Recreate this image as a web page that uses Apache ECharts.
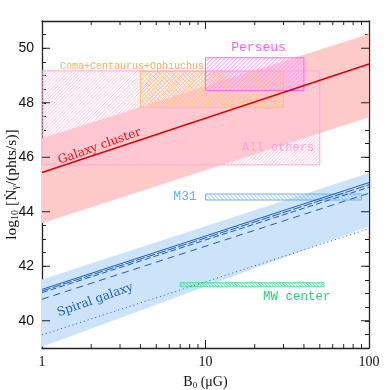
<!DOCTYPE html>
<html>
<head>
<meta charset="utf-8">
<script src="https://cdn.jsdelivr.net/npm/echarts@6/dist/echarts.min.js"></script>
<style>
    html, body {margin: 0; background: #fff;}
    #chart {width: 390px; height: 390px;}
</style>
</head>
<body>
<div id="chart"></div>
<script type="text/javascript">
    // B0 range (muG) where the bands and model lines are drawn
    var bEnds = [1, 100];

    // galaxy clusters
    var clusterLine = [45.44, 49.42];
    var clusterLow = [43.58, 47.47];
    var clusterHigh = [46.70, 50.52];

    // spiral galaxies
    var spiralLow = [39.05, 43.47];
    var spiralHigh = [41.51, 45.42];
    var spiralSolid = [41.15, 45.07];
    var spiralDashA = [41.09, 44.99];
    var spiralDashB = [41.03, 44.90];
    var spiralDashC = [40.79, 44.68];
    var spiralDot = [39.48, 43.38];

    // observed regions: [Bmin, Bmax], [Nmin, Nmax]
    var regionNames = ['All others', 'Coma+Centaurus+Ophiuchus', 'Perseus', 'M31', 'MW center'];
    var regionB = [[1, 50], [4, 30], [10, 40], [10, 90], [7, 53]];
    var regionN = [[45.72, 49.17], [47.83, 49.15], [48.45, 49.65], [44.43, 44.65], [41.25, 41.40]];

    // text labels
    var labelText = ['Coma+Centaurus+Ophiuchus', 'Perseus', 'All others', 'M31', 'MW center', 'Galaxy cluster', 'Spiral galaxy'];
    var labelB = [1.29, 21.1, 27.8, 7.5, 36.2, 2.25, 2.12];
    var labelN = [49.32, 50.02, 46.33, 44.57, 40.88, 46.40, 40.76];

    // ticks
    var xMinorTicks = [2, 3, 4, 5, 6, 7, 8, 9, 20, 30, 40, 50, 60, 70, 80, 90];
    var yMajorTicks = [40, 42, 44, 46, 48, 50];

    var X_MIN = 1, X_MAX = 100, Y_MIN = 39, Y_MAX = 51;

    // dir: 1 = '/', 2 = '\', 3 = both
    var regionStyle = [
        {color: '#ffa8d8', hatch: '#ffc4e4', dir: 1, step: 3.4},
        {color: '#ffc080', hatch: '#ffc68c', dir: 3, step: 4.5},
        {color: '#ff66f0', hatch: '#ff92f6', dir: 1, step: 4},
        {color: '#74b4f4', hatch: '#86bef6', dir: 2, step: 4},
        {color: '#5ee0a0', hatch: '#3fd98f', dir: 2, step: 3}
    ];
    var labelStyle = [
        {color: '#ffaa55', font: '10px "Liberation Mono"', align: 'left', rot: 0},
        {color: '#ff5cf2', font: '13px "Liberation Mono"', align: 'center', rot: 0},
        {color: '#ffa0d8', font: '12px "Liberation Mono"', align: 'center', rot: 0},
        {color: '#6cb0f4', font: '13px "Liberation Mono"', align: 'center', rot: 0},
        {color: '#22d077', font: '12.5px "Liberation Mono"', align: 'center', rot: 0},
        {color: '#dd1111', font: '12px "DejaVu Serif"', align: 'center', rot: 19.5},
        {color: '#1f5fae', font: '12px "DejaVu Serif"', align: 'center', rot: 19.5}
    ];

    // hatch lines clipped to the rectangle [x0,x1] x [y0,y1] (pixels)
    function hatchLines(x0, y0, x1, y1, dir, step, color) {
        var out = [];
        var st = {stroke: color, lineWidth: 1};
        var c, xa, xb;
        if (dir & 1) {
            for (c = x0 + y0 + step; c < x1 + y1; c += step) {
                xa = Math.max(x0, c - y1);
                xb = Math.min(x1, c - y0);
                if (xb > xa) out.push({type: 'line', shape: {x1: xa, y1: c - xa, x2: xb, y2: c - xb}, style: st});
            }
        }
        if (dir & 2) {
            for (c = y0 - x1 + step; c < y1 - x0; c += step) {
                xa = Math.max(x0, y0 - c);
                xb = Math.min(x1, y1 - c);
                if (xb > xa) out.push({type: 'line', shape: {x1: xa, y1: xa + c, x2: xb, y2: xb + c}, style: st});
            }
        }
        return out;
    }

    function bandSeries(low, high, color, z) {
        return {
            type: 'custom',
            z: z,
            silent: true,
            data: [[bEnds[0], low[0]]],
            renderItem: function (params, api) {
                var pts = [
                    api.coord([bEnds[0], low[0]]),
                    api.coord([bEnds[1], low[1]]),
                    api.coord([bEnds[1], high[1]]),
                    api.coord([bEnds[0], high[0]])
                ];
                return {type: 'polygon', shape: {points: pts}, style: {fill: color}};
            }
        };
    }

    function lineSeries(vals, color, type, width, z) {
        return {
            type: 'line',
            z: z,
            silent: true,
            showSymbol: false,
            symbol: 'none',
            data: [[bEnds[0], vals[0]], [bEnds[1], vals[1]]],
            lineStyle: {color: color, width: width, type: type}
        };
    }

    var regionData = regionNames.map(function (n, i) {
        return [regionB[i][0], regionB[i][1], regionN[i][0], regionN[i][1]];
    });

    var series = [
        bandSeries(clusterLow, clusterHigh, '#ffcaca', 1),
        bandSeries(spiralLow, spiralHigh, '#cce3f9', 1),
        {
            type: 'custom',
            z: 3,
            silent: true,
            encode: {x: [0, 1], y: [2, 3]},
            data: regionData,
            renderItem: function (params, api) {
                var i = params.dataIndex;
                var s = regionStyle[i];
                var p0 = api.coord([api.value(0), api.value(3)]);
                var p1 = api.coord([api.value(1), api.value(2)]);
                var kids = hatchLines(p0[0], p0[1], p1[0], p1[1], s.dir, s.step, s.hatch);
                kids.push({
                    type: 'rect',
                    shape: {x: p0[0], y: p0[1], width: p1[0] - p0[0], height: p1[1] - p0[1]},
                    style: {fill: null, stroke: s.color, lineWidth: 1}
                });
                return {type: 'group', children: kids};
            }
        },
        lineSeries(clusterLine, '#dd0000', 'solid', 1.5, 5),
        lineSeries(spiralSolid, '#1f5fae', 'solid', 1, 5),
        lineSeries(spiralDashA, '#1f5fae', [9, 2], 1, 5),
        lineSeries(spiralDashB, '#1f5fae', [6, 3], 1, 5),
        lineSeries(spiralDashC, '#1f5fae', [7, 5], 1, 5),
        lineSeries(spiralDot, '#1f5fae', [1, 3], 1, 5),
        {
            type: 'custom',
            z: 6,
            silent: true,
            data: labelText.map(function (t, i) { return [labelB[i], labelN[i]]; }),
            renderItem: function (params, api) {
                var i = params.dataIndex;
                var p = api.coord([api.value(0), api.value(1)]);
                var s = labelStyle[i];
                return {
                    type: 'text',
                    x: p[0],
                    y: p[1],
                    rotation: s.rot * Math.PI / 180,
                    style: {
                        text: labelText[i],
                        font: s.font,
                        fill: s.color,
                        align: s.align,
                        verticalAlign: 'middle'
                    }
                };
            }
        },
        {
            // minor ticks of the log axis, bottom and top
            type: 'custom',
            z: 8,
            silent: true,
            clip: false,
            data: xMinorTicks.map(function (v) { return [v, Y_MIN]; }),
            renderItem: function (params, api) {
                var b = api.coord([api.value(0), Y_MIN]);
                var t = api.coord([api.value(0), Y_MAX]);
                var st = {stroke: '#222', lineWidth: 1};
                return {
                    type: 'group',
                    children: [
                        {type: 'line', shape: {x1: b[0], y1: b[1], x2: b[0], y2: b[1] - 4}, style: st},
                        {type: 'line', shape: {x1: t[0], y1: t[1], x2: t[0], y2: t[1] + 4}, style: st}
                    ]
                };
            }
        },
        {
            // major ticks on the left and right axes
            type: 'custom',
            z: 8,
            silent: true,
            clip: false,
            data: yMajorTicks.map(function (v) { return [X_MIN, v]; }),
            renderItem: function (params, api) {
                var l = api.coord([X_MIN, api.value(1)]);
                var r = api.coord([X_MAX, api.value(1)]);
                var st = {stroke: '#222', lineWidth: 1};
                return {
                    type: 'group',
                    children: [
                        {type: 'line', shape: {x1: l[0], y1: l[1], x2: l[0] + 8, y2: l[1]}, style: st},
                        {type: 'line', shape: {x1: r[0], y1: r[1], x2: r[0] - 8, y2: r[1]}, style: st}
                    ]
                };
            }
        }
    ];

    var axisLine = {show: true, lineStyle: {color: '#222', width: 1.3}};

    var option = {
        animation: false,
        backgroundColor: '#fff',
        grid: {left: 42, right: 21, top: 21, bottom: 42, containLabel: false, outerBoundsMode: 'none'},
        xAxis: [
            {
                type: 'log',
                logBase: 10,
                min: X_MIN,
                max: X_MAX,
                position: 'bottom',
                axisLine: axisLine,
                axisTick: {show: true, inside: true, length: 8, lineStyle: {color: '#222'}},
                splitLine: {show: false},
                axisLabel: {
                    margin: 7,
                    color: '#111',
                    fontFamily: 'Liberation Serif',
                    fontSize: 14
                },
                name: 'B{s|0} (\u03bcG)',
                nameLocation: 'middle',
                nameGap: 26,
                nameMoveOverlap: false,
                nameTextStyle: {
                    color: '#111',
                    fontFamily: 'Liberation Serif',
                    fontSize: 14,
                    rich: {s: {fontFamily: 'Liberation Serif', fontSize: 9, verticalAlign: 'bottom', lineHeight: 16}}
                }
            },
            {
                type: 'log',
                logBase: 10,
                min: X_MIN,
                max: X_MAX,
                position: 'top',
                axisLine: axisLine,
                axisTick: {show: true, inside: true, length: 8, lineStyle: {color: '#222'}},
                splitLine: {show: false},
                axisLabel: {show: false}
            }
        ],
        yAxis: [
            {
                type: 'value',
                min: Y_MIN,
                max: Y_MAX,
                interval: 0.5,
                position: 'left',
                axisLine: axisLine,
                axisTick: {show: true, inside: true, length: 4, lineStyle: {color: '#222'}},
                splitLine: {show: false},
                axisLabel: {
                    margin: 8,
                    color: '#111',
                    fontFamily: 'Liberation Sans',
                    fontSize: 14,
                    formatter: function (v) {
                        return yMajorTicks.indexOf(v) >= 0 ? String(v) : '';
                    }
                },
                name: 'log{s|10} [\u1e44{s|\u03b3}/(phts/s)]',
                nameLocation: 'middle',
                nameGap: 22,
                nameMoveOverlap: false,
                nameTextStyle: {
                    color: '#111',
                    fontFamily: 'Liberation Serif',
                    fontSize: 15.5,
                    rich: {s: {fontFamily: 'Liberation Serif', fontSize: 10, verticalAlign: 'bottom', lineHeight: 17}}
                }
            },
            {
                type: 'value',
                min: Y_MIN,
                max: Y_MAX,
                interval: 0.5,
                position: 'right',
                axisLine: axisLine,
                axisTick: {show: true, inside: true, length: 4, lineStyle: {color: '#222'}},
                splitLine: {show: false},
                axisLabel: {show: false}
            }
        ],
        series: series
    };

    var myChart = echarts.init(document.getElementById('chart'), null, {renderer: 'canvas'});
    myChart.setOption(option);
</script>
</body>
</html>
